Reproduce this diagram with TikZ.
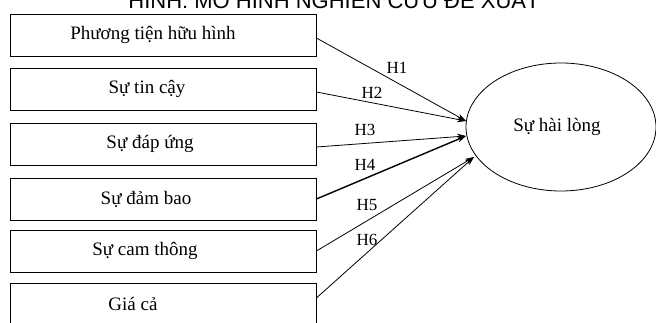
\documentclass[tikz,border=0pt]{standalone}
\usepackage{fontspec}
\setmainfont{Liberation Serif}
\newfontfamily\sansf{Liberation Sans}
\usetikzlibrary{arrows.meta,shapes.geometric}
\begin{document}
\begin{tikzpicture}[x=1pt,y=-1pt,
  factor/.style={draw,line width=0.8pt,minimum width=306pt,minimum height=42pt,inner sep=0pt},
  ftext/.style={font=\fontsize{19}{21}\selectfont,inner sep=0pt},
  hyp/.style={font=\fontsize{17}{19}\selectfont},
  link/.style={line width=0.8pt,-{Stealth[length=9pt,width=6pt]}}]
\useasboundingbox (0,0) rectangle (656,323);
\clip (0,0) rectangle (656,323);
\fill[white] (0,0) rectangle (656,323);
\node[font=\sansf\fontsize{22}{24}\selectfont,anchor=base] (title) at (334,9) {HÌNH: MÔ HÌNH NGHIÊN CỨU ĐỀ XUẤT};
\node[factor] (b1) at (163,35) {};
\node[factor] (b2) at (163,89) {};
\node[factor] (b3) at (163,144) {};
\node[factor] (b4) at (163,199) {};
\node[factor] (b5) at (163,251) {};
\node[factor] (b6) at (163,304) {};
\node[ftext] (l1) at ([xshift=-10pt]b1.center) {Phương tiện hữu hình};
\node[ftext] (l2) at ([xshift=-16pt]b2.center) {Sự tin cậy};
\node[ftext] (l3) at ([xshift=-13pt]b3.center) {Sự đáp ứng};
\node[ftext] (l4) at ([xshift=-17pt]b4.center) {Sự đảm bao};
\node[ftext] (l5) at ([xshift=-18pt]b5.center) {Sự cam thông};
\node[ftext] (l6) at ([xshift=-30pt]b6.center) {Giá cả};
\node[draw,line width=0.8pt,ellipse,minimum width=190pt,minimum height=128pt] (y) at (561,127) {};
\node[ftext] (ly) at ([xshift=-4pt]y.center) {Sự hài lòng};
\coordinate (t1) at (466,121);
\coordinate (t2) at (466,136);
\coordinate (t3) at (474,157);
\draw[link] (b1.east |- 0,38) -- (t1);
\draw[link] (b2.east |- 0,92) -- (t1);
\draw[link] (b3.east |- 0,147) -- (t2);
\draw[link,line width=1.4pt] (b4.east |- 0,199) -- (t2);
\draw[link] (b5.east |- 0,251) -- (t3);
\draw[link] (b6.east |- 0,298) -- (t3);
\node[hyp] (h1) at (397,68) {H1};
\node[hyp] (h2) at (372,93) {H2};
\node[hyp] (h3) at (365,130) {H3};
\node[hyp] (h4) at (365,165) {H4};
\node[hyp] (h5) at (367,205) {H5};
\node[hyp] (h6) at (367,240) {H6};
\end{tikzpicture}
\end{document}
